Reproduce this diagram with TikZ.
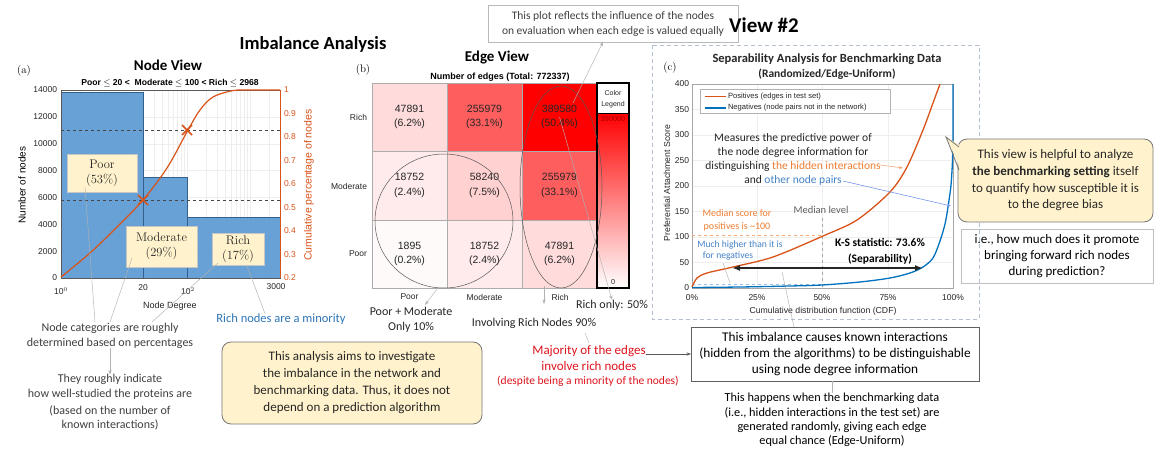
\documentclass[tikz,border=0pt]{standalone}
\usepackage{fontspec}
\newfontfamily\calib{Carlito}
\newfontfamily\arialf{Liberation Sans}
\usetikzlibrary{arrows.meta,shapes.geometric,calc}
\newcommand\fsz[2]{\fontsize{#1}{#2}\selectfont}
\definecolor{barblue}{RGB}{94,156,211}
\definecolor{bardark}{RGB}{50,95,140}
\definecolor{matorange}{RGB}{217,83,25}
\definecolor{matblue}{RGB}{0,114,189}
\definecolor{tanfill}{RGB}{255,242,204}
\definecolor{boxgrey}{RGB}{118,118,118}
\definecolor{txtgrey}{RGB}{64,64,64}
\definecolor{txtdark}{RGB}{38,38,38}
\definecolor{noteblue}{RGB}{46,117,182}
\definecolor{notered}{RGB}{222,20,30}
\definecolor{lightorange}{RGB}{237,125,49}
\definecolor{softorange}{RGB}{244,170,120}
\definecolor{softblue}{RGB}{150,190,230}
\definecolor{textblue}{RGB}{68,130,200}
\definecolor{frame}{RGB}{180,192,210}
\definecolor{legred}{RGB}{170,0,0}
\begin{document}
\begin{tikzpicture}[x=1pt,y=-1pt,font=\calib,
  every node/.style={inner sep=0pt,outer sep=0pt},
  tk/.style={font=\arialf\fsz{8.5}{10},text=txtdark},
  note/.style={font=\calib\fsz{12}{14.5},align=center,text=txtgrey},
  tanbox/.style={draw=boxgrey,fill=tanfill,rounded corners=9pt,line width=0.8pt,align=center},
  catbox/.style={draw=gray!45,fill=tanfill,font=\rmfamily\fsz{12.5}{15},align=center,text=txtdark},
  pline/.style={draw=gray!60,line width=0.45pt},
  parr/.style={pline,-{Stealth[length=4.5pt,width=3.2pt]}},
  gridln/.style={draw=gray!13,line width=0.4pt},
]
\useasboundingbox (0,0) rectangle (1157,452);
\fill[white] (0,0) rectangle (1157,452);

%================ (a) Node view =================
\node[font=\calib\fsz{18.5}{20}\bfseries] (imb) at (313,44) {Imbalance Analysis};
\node[font=\calib\fsz{15}{17}\bfseries] (nv) at (168,65) {Node View};
\node[font=\rmfamily\fsz{11}{13}] (pa) at (24,71) {(a)};
\node[font=\arialf\fsz{8.6}{10}\bfseries] (thr) at (170,83)
  {Poor $\leq$ 20 <\ \ Moderate $\leq$ 100 < Rich $\leq$ 2968};

% grid behind the bars
\begin{scope}
  \clip (61,90) rectangle (280,278);
  \foreach \d in {0,1,2,3} \foreach \m in {1,...,9} {
    \pgfmathsetmacro\gx{61+63*(\d+log10(\m))}
    \draw[gridln] (\gx,90) -- (\gx,278);
  }
  \foreach \v in {2000,4000,...,12000}
    \draw[gridln] (61,{278-\v/14000*188}) -- (280,{278-\v/14000*188});
\end{scope}
% histogram bars
\draw[fill=barblue,fill opacity=0.94,draw=bardark,line width=0.5pt] (61,278) rectangle (143,92.5);
\draw[fill=barblue,fill opacity=0.94,draw=bardark,line width=0.5pt] (143,278) rectangle (187,177.3);
\draw[fill=barblue,fill opacity=0.94,draw=bardark,line width=0.5pt] (187,278) rectangle (280,217.6);
% axes frame
\draw[gray!70!black,line width=0.5pt] (61,278) -- (61,90) -- (280,90);
\draw[gray!70!black,line width=0.5pt] (61,278) -- (280,278);
\draw[matorange,line width=0.5pt] (280,90) -- (280,278);
\foreach \v in {0,2000,4000,6000,8000,10000,12000,14000}
  \node[tk,anchor=east] at (57,{278-\v/14000*188}) {\v};
\foreach \v/\t in {0.2/0.2,0.3/0.3,0.4/0.4,0.5/0.5,0.6/0.6,0.7/0.7,0.8/0.8,0.9/0.9,1/1}
  \node[tk,anchor=west,text=matorange] at (284,{278-(\v-0.2)/0.8*188}) {\t};
\node[font=\arialf\fsz{10}{12},rotate=90] (yl) at (22,185) {Number of nodes};
\node[font=\arialf\fsz{10.5}{12},rotate=90,text=matorange] (yr) at (309,185) {Cumulative percentage of nodes};
\node[tk] at (61,291) {10$^0$};
\node[tk] at (143,288) {20};
\node[tk] at (188,291) {10$^2$};
\node[tk] at (276,287) {3000};
\node[font=\arialf\fsz{9}{10},text=txtdark] (nd) at (170,306) {Node Degree};
% median / category levels
\draw[dashed,gray!55!black,line width=0.5pt] (61,200) -- (280,200);
\draw[dashed,gray!55!black,line width=0.5pt] (61,130) -- (280,130);
% cumulative curve
\draw[matorange,line width=1.2pt] plot[smooth,tension=0.55] coordinates
  {(61,277) (90,253) (117,227) (143,200) (167,168) (188,130) (200,110) (213,97) (233,90.6) (250,90) (280,90)};
\foreach \p in {(143,200),(187,130)}
  \draw[matorange,line width=1.6pt] \p ++(-5,-5) -- ++(10,10) \p ++(-5,5) -- ++(10,-10);
% category labels
\node[catbox,minimum width=70pt,minimum height=38pt] (poorb) at (102,173.5) {Poor\\(53\%)};
\node[catbox,minimum width=71pt,minimum height=41pt] (modb) at (161.5,246.5) {Moderate\\(29\%)};
\node[catbox,minimum width=52pt,minimum height=32pt] (richb) at (238,249) {Rich\\(17\%)};
% notes under the histogram
\node[note] (nc) at (110,336) {Node categories are roughly\\determined based on percentages};
\node[note] (wk) at (110,387) {They roughly indicate\\how well-studied the proteins are};
\node[note] (bn) at (110,418) {(based on the number of\\known interactions)};
\node[font=\calib\fsz{12.5}{14},text=noteblue] (rm) at (281,319) {Rich nodes are a minority};
\coordinate (p1) at (85,187);
\coordinate (p2) at (132,258);
\coordinate (p3) at (218,263);
\coordinate (p4) at (247,266);
\draw[pline] (p1) -- (95,322);
\draw[pline] (p2) -- (110,322);
\draw[pline] (p3) -- (152,322);
\draw[pline] (p4) -- (rm.north -| 265,0);
\draw[parr] (nc.south) -- (wk.north);

% summary box
\node[tanbox,font=\calib\fsz{13}{17},text=txtdark,minimum width=260pt,minimum height=82pt] (ab)
  at (352,383) {This analysis aims to investigate\\the imbalance in the network and\\benchmarking data. Thus, it does not\\depend on a prediction algorithm};

%================ (b) Edge view =================
\node[font=\calib\fsz{15}{17}\bfseries] (ev) at (497,58) {Edge View};
\node[font=\rmfamily\fsz{11}{13}] (pb) at (363,70) {(b)};
\node[font=\arialf\fsz{9}{10}\bfseries] (ne) at (500,77) {Number of edges (Total: 772337)};
\foreach \x/\y/\h/\k/\n/\p [count=\i] in
  {372/83/68/14/47891/6.2, 447/83/68/63/255979/33.1, 522/83/68/100/389580/50.4,
   372/151/69/8/18752/2.4, 447/151/69/18/58240/7.5, 522/151/69/63/255979/33.1,
   372/220/68/2/1895/0.2, 447/220/68/8/18752/2.4, 522/220/68/14/47891/6.2}
{
  \fill[red!\k!white] (\x,\y) rectangle ++(75,\h);
  \node[font=\arialf\fsz{10.5}{14.5},align=center,text=txtdark] (cell\i) at ({\x+37.5},{\y+\h/2}) {\n\\(\p\%)};
}
\draw[gray!65,line width=0.5pt] (372,83) rectangle (597,288);
\draw[gray!65,line width=0.5pt] (447,83) -- (447,288) (522,83) -- (522,288) (372,151) -- (597,151) (372,220) -- (597,220);
\node[tk,anchor=east] (rr) at (367,117) {Rich};
\node[tk,anchor=east] (rmod) at (367,186) {Moderate};
\node[tk,anchor=east] (rp) at (367,254) {Poor};
\node[tk] (cp) at (409.5,297) {Poor};
\node[tk] (cm) at (484.5,297) {Moderate};
\node[tk] (cr) at (560,297) {Rich};
% colour legend
\shade[top color=red,bottom color=white] (597,113) rectangle (629,288);
\draw[black,line width=0.6pt] (597,113) -- (629,113);
\draw[black,line width=1.6pt] (597,83) rectangle (629,288);
\node[font=\arialf\fsz{7}{10.5},align=center,text=txtdark] (cl) at (613,99) {Color\\Legend};
\node[font=\arialf\fsz{7.2}{8},text=legred] (lmax) at (613,119) {390000};
\node[font=\arialf\fsz{7.2}{8},text=txtdark] (lmin) at (613,282) {0};
% groupings
\node[ellipse,draw=gray!70!black,line width=0.5pt,minimum width=138pt,minimum height=134pt] (pmc) at (444,221) {};
\node[ellipse,draw=gray!70!black,line width=0.5pt,minimum width=82pt,minimum height=202pt] (rc) at (561,187) {};
\node[font=\calib\fsz{12}{14.5},align=center,text=txtdark] (pm) at (411,320) {Poor + Moderate\\Only 10\%};
\node[font=\calib\fsz{12}{14},text=txtdark] (ir) at (534,323) {Involving Rich Nodes 90\%};
\node[font=\calib\fsz{12}{14},text=txtdark] (ro) at (612,305) {Rich only: 50\%};
\node[font=\calib\fsz{13}{16},align=center,text=notered] (mj) at (589,358) {Majority of the edges\\involve rich nodes};
\node[font=\calib\fsz{11.5}{13},text=notered] (ds) at (588,381) {(despite being a minority of the nodes)};
\node[font=\calib\fsz{11.5}{15},align=center,text=txtgrey,draw=gray!55,line width=0.6pt,minimum width=250pt,minimum height=37pt] (cb)
  at (613,23.5) {This plot reflects the influence of the nodes\\on evaluation when each edge is valued equally};
\coordinate (pmfoot) at (437,289);
\coordinate (rcfoot) at (544,286);
\coordinate (cbfoot) at (603,42);
\coordinate (cellref) at (573,103);
\draw[parr] (pmfoot) -- (425,305);
\draw[parr] (rcfoot) -- (544,304);
\draw[parr] (cell3.center) -- (ro.north);
\draw[parr] (cellref) -- (cbfoot);
\draw[pline] (585,333) -- (589,343);

%================ (c) Separability view =================
\node[font=\calib\fsz{21}{23}\bfseries] (v2) at (764,25) {View \#2};
\draw[frame,dashed,dash pattern=on 4pt off 3pt,line width=0.8pt] (652,45) rectangle (979,319);
\node[font=\rmfamily\fsz{11}{13}] (pc) at (670,68) {(c)};
\node[font=\calib\fsz{12.5}{14}\bfseries,text=txtdark] (st) at (827,59) {Separability Analysis for Benchmarking Data};
\node[font=\calib\fsz{11.5}{13}\bfseries,text=txtdark] (st2) at (827,74) {(Randomized/Edge-Uniform)};
% plot grid and frame
\foreach \v in {50,100,...,350}
  \draw[gridln] (692,{288-\v*0.51}) -- (953,{288-\v*0.51});
\foreach \x in {757,822,888}
  \draw[gridln] (\x,84) -- (\x,288);
\draw[gray!70,line width=0.5pt] (692,84) rectangle (953,288);
\foreach \v in {0,50,...,400}
  \node[tk,anchor=east,font=\arialf\fsz{8.5}{10}] at (689,{288-\v*0.51}) {\v};
\foreach \x/\t in {692/0,757/25,822/50,888/75,953/100}
  \node[tk] at (\x,298) {\t\%};
\node[font=\arialf\fsz{8.7}{10},text=txtdark] (xl) at (823,311) {Cumulative distribution function (CDF)};
\node[font=\arialf\fsz{8.7}{10},rotate=90,text=txtdark] (ylc) at (667,183) {Preferential Attachment Score};
% median guides
\draw[dashed,softorange,line width=0.8pt] (692,235) -- (822,235);
\draw[dashed,softblue,line width=0.8pt] (692,284) -- (822,284);
\draw[dashed,gray!70,line width=0.8pt] (822,218) -- (822,288);
% distributions
\draw[matorange,line width=1.3pt] plot[smooth,tension=0.5] coordinates
  {(692,287) (697,278) (707,273) (733,267) (773,257) (823,236) (857,220) (890,192) (907,167) (923,130) (933,103) (940,84)};
\draw[matblue,line width=1.3pt] plot[smooth,tension=0.5] coordinates
  {(692,287.5) (740,287) (790,286) (822,285) (860,282) (890,278) (910,273) (923,267) (933,258) (940,241) (945,224) (948,207) (951,185) (952.5,160) (953,130) (953,84)};
% legend
\draw[fill=white,draw=gray!60,line width=0.5pt] (700,89) rectangle (890,113);
\draw[matorange,line width=1.3pt] (705,96.5) -- (726,96.5);
\draw[matblue,line width=1.3pt] (705,108) -- (726,108);
\node[font=\arialf\fsz{7.6}{9},anchor=west,text=txtdark] (lp) at (728,96.5) {Positives (edges in test set)};
\node[font=\arialf\fsz{7.6}{9},anchor=west,text=txtdark] (ln) at (728,108) {Negatives (node pairs not in the network)};
% K-S separation
\coordinate (ksl) at (732,268);
\coordinate (ksr) at (923,268);
\draw[black!85,line width=1.6pt,{Latex[length=8pt,width=6pt]}-{Latex[length=8pt,width=6pt]}] (ksl) -- (ksr);
\node[font=\calib\fsz{11.5}{16}\bfseries,align=center,text=black] (ks) at (880,251) {K-S statistic: 73.6\%\\(Separability)};
% annotations inside the plot
\node[font=\calib\fsz{11.5}{14},align=center,text=txtdark] (ms) at (793,159)
  {Measures\ the\ predictive\ power\ of\\the node degree information for\\distinguishing \textcolor{lightorange}{the hidden interactions}\\and \textcolor{textblue}{other node pairs}};
\draw[-{Stealth[length=4pt,width=3pt]},softorange,line width=0.6pt] (880,165) -- (903,168);
\draw[-{Stealth[length=4pt,width=3pt]},softblue!80!blue,line width=0.6pt] (843,181) -- (951,206);
\node[font=\calib\fsz{10.5}{12},text=gray!75!black] (ml) at (821,210) {Median level};
\node[font=\calib\fsz{10}{13},align=center,text=lightorange] (msc) at (737,220.5) {Median score for\\positives is \textasciitilde100};
\node[font=\calib\fsz{9.6}{11.5},align=center,text=textblue] (mh) at (740,250.5) {Much higher than it is\\\hspace*{-24pt}for negatives};
\draw[pline] (723,263) -- (730,283);
% side notes
\node[tanbox,font=\calib\fsz{13}{16.7},text=txtdark,minimum width=195pt,minimum height=83pt] (vc) at (1055.5,180.5)
  {This view is helpful to analyze\\\textbf{the benchmarking setting} itself\\to quantify how susceptible it is\\to the degree bias};
\fill[tanfill] (946,137) -- (961,146) -- (961,170) -- cycle;
\draw[boxgrey,line width=0.8pt] (959,147) -- (946,137) -- (959,170);
\node[draw=gray!50,line width=0.6pt,font=\calib\fsz{13}{16},align=center,text=black,minimum width=192pt,minimum height=54pt] (ie)
  at (1057,256) {i.e., how much does it promote\\bringing forward rich nodes\\during prediction?};
\node[draw=gray!75!black,line width=0.8pt,font=\calib\fsz{13.3}{16},align=center,text=black,minimum width=288pt,minimum height=54pt] (bb)
  at (835,354) {This imbalance causes known interactions\\(hidden from the algorithms) to be distinguishable\\using node degree information};
\node[font=\calib\fsz{12.3}{14.2},align=center,text=black] (th) at (832,420)
  {This happens when the benchmarking data\\(i.e., hidden interactions in the test set) are\\generated randomly, giving each edge\\equal chance (Edge-Uniform)};
\coordinate (kslink) at (782,272);
\draw[pline] (kslink) -- (bb.north -| 794,0);
\draw[pline] (bb.south -| 832,0) -- (th.north -| 832,0);
\draw[-{Stealth[length=4.5pt,width=3.2pt]},gray!70!black,line width=0.5pt] (mj.east |- 0,354) -- (bb.west);
\end{tikzpicture}
\end{document}
